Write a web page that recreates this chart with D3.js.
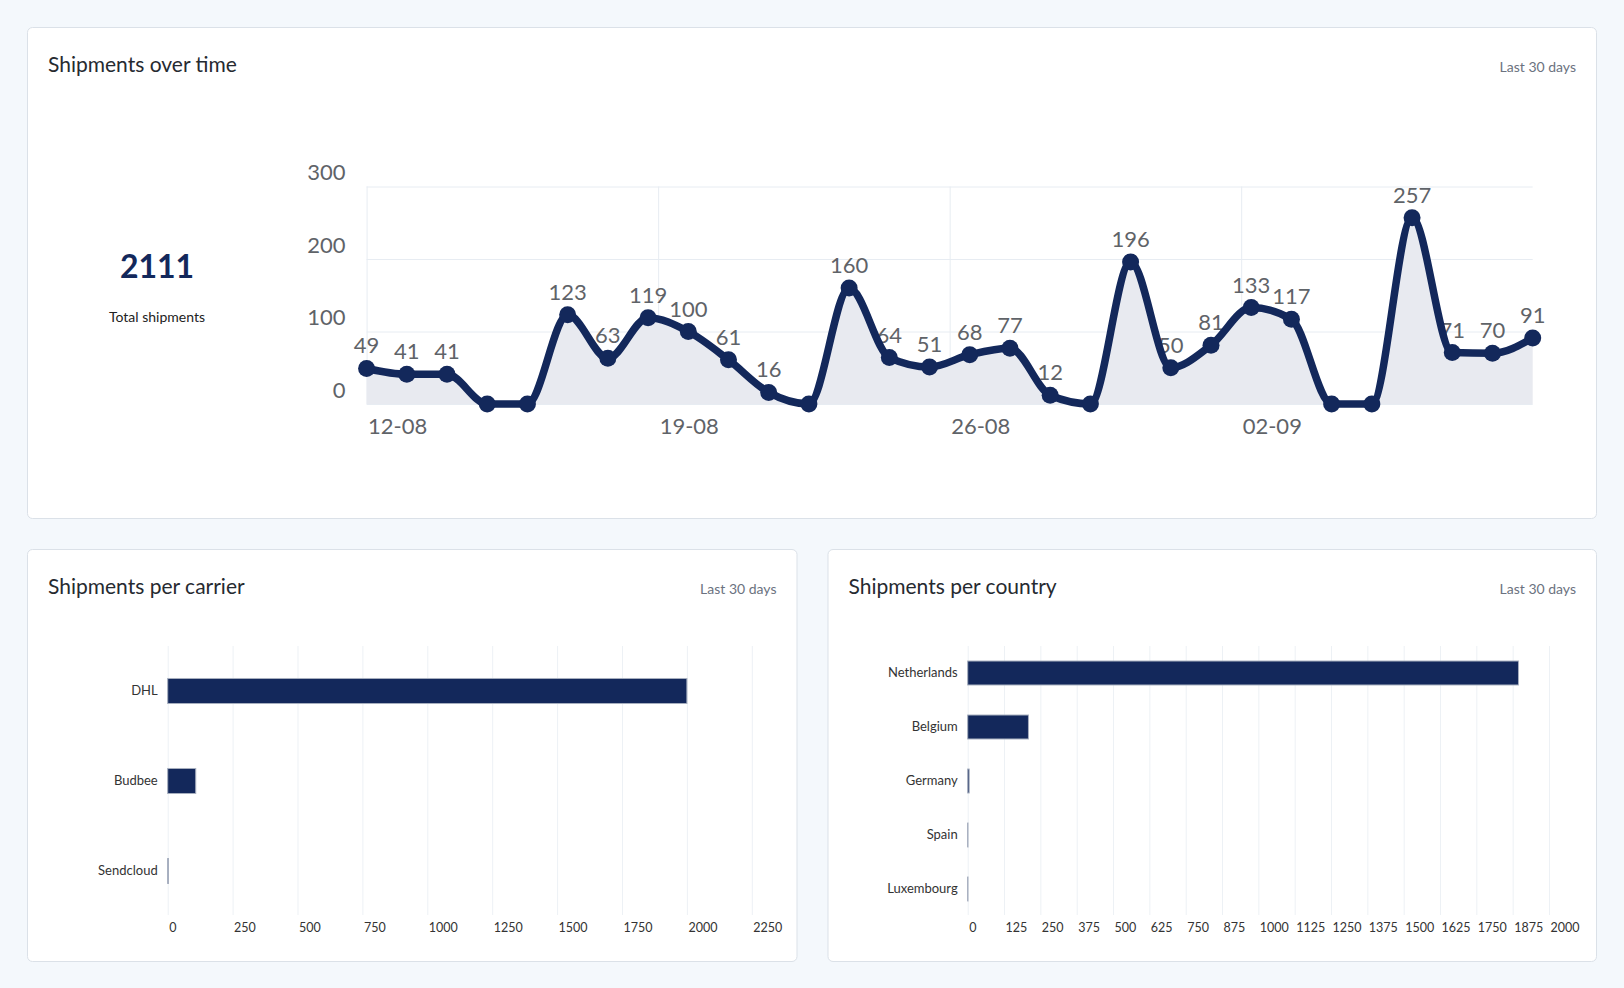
<!DOCTYPE html>
<html>
<head>
<meta charset="utf-8">
<script src="https://cdn.jsdelivr.net/npm/d3@7"></script>
<style>
  html, body { margin: 0; padding: 0; background: #f4f8fc; }
  svg { display: block; font-family: Lato, "Noto Sans", sans-serif; }
</style>
</head>
<body>
<svg id="chart" width="1624" height="988"></svg>
<script>
// shipments per day
const days = ["12-08","13-08","14-08","15-08","16-08","17-08","18-08","19-08","20-08","21-08",
              "22-08","23-08","24-08","25-08","26-08","27-08","28-08","29-08","30-08","31-08",
              "01-09","02-09","03-09","04-09","05-09","06-09","07-09","08-09","09-09","10-09"];
const shipments = [49, 41, 41, 0, 0, 123, 63, 119, 100, 61,
                   16, 0, 160, 64, 51, 68, 77, 12, 0, 196,
                   50, 81, 133, 117, 0, 0, 257, 71, 70, 91];
const yTicks = [0, 100, 200, 300];
const xTickLabels = ["12-08", "19-08", "26-08", "02-09"];

// carriers
const carriers = ["DHL", "Budbee", "Sendcloud"];
const carrierValues = [2000, 108, 3];
const carrierTicks = [0, 250, 500, 750, 1000, 1250, 1500, 1750, 2000, 2250];

// countries
const countries = ["Netherlands", "Belgium", "Germany", "Spain", "Luxembourg"];
const countryValues = [1895, 209, 5, 1, 1];
const countryTicks = [0, 125, 250, 375, 500, 625, 750, 875, 1000, 1125, 1250, 1375, 1500, 1625, 1750, 1875, 2000];

const navy = "#13285b";
const gridColor = "#e7ecf2";
const svg = d3.select("#chart");

function card(x, y, w, h, title) {
  const g = svg.append("g");
  g.append("rect").attr("x", x + 0.5).attr("y", y + 0.5).attr("width", w).attr("height", h)
    .attr("rx", 5).attr("fill", "#fff").attr("stroke", "#dbe1e8");
  g.append("text").attr("x", x + 21).attr("y", y + 45).attr("font-size", 21)
    .attr("fill", "#262a30").text(title);
  g.append("text").attr("x", x + w - 20).attr("y", y + 45).attr("font-size", 14)
    .attr("text-anchor", "end").attr("fill", "#6b7280").text("Last 30 days");
  return g;
}

// ---------- shipments over time ----------
card(27, 27, 1569, 491, "Shipments over time");

svg.append("text").attr("x", 157).attr("y", 278).attr("text-anchor", "middle")
  .attr("font-size", 32).attr("font-weight", 700).attr("fill", navy)
  .text(d3.sum(shipments));
svg.append("text").attr("x", 157).attr("y", 322).attr("text-anchor", "middle")
  .attr("font-size", 14).attr("fill", "#222").text("Total shipments");

const parseDay = d3.timeParse("%d-%m-%Y");
const dates = days.map(d => parseDay(d + "-2024"));
const series = dates.map((d, i) => ({date: d, value: shipments[i]}));

const x0 = 366.6, x1 = 1532.7;
const x = d3.scaleTime().domain(d3.extent(dates)).range([x0, x1]);
const y = d3.scaleLinear().domain([0, 300]).range([404, 186.5]);

// evenly spaced ticks across the domain (4 intervals)
const [t0, t1] = x.domain();
const xTickVals = xTickLabels.map((l, i) => new Date(+t0 + i * (t1 - t0) / 4));

const lc = svg.append("g");

// grid
lc.append("g").attr("transform", `translate(${x0},0)`)
  .call(d3.axisLeft(y).tickValues(yTicks).tickSize(-(x1 - x0)).tickFormat(""))
  .call(g => g.select(".domain").remove())
  .call(g => g.selectAll("line").attr("stroke", gridColor));
lc.append("g").attr("transform", `translate(0,${y(0)})`)
  .call(d3.axisBottom(x).tickValues(xTickVals).tickSize(-(y(0) - y(300))).tickFormat(""))
  .call(g => g.select(".domain").remove())
  .call(g => g.selectAll("line").attr("stroke", gridColor));

// axes labels
lc.append("g").attr("transform", `translate(${x0},0)`)
  .call(d3.axisLeft(y).tickValues(yTicks).tickSize(0).tickPadding(21))
  .call(g => g.select(".domain").remove())
  .call(g => g.selectAll("text").attr("dy", -7).attr("font-size", 22)
    .attr("font-family", "Lato").attr("fill", "#5f6368"));
lc.append("g").attr("transform", `translate(0,${y(0)})`)
  .call(d3.axisBottom(x).tickValues(xTickVals).tickSize(0).tickFormat((d, i) => xTickLabels[i]))
  .call(g => g.select(".domain").remove())
  .call(g => g.selectAll("text").attr("y", 30).attr("dy", 0).attr("x", 1)
    .attr("text-anchor", "start").attr("font-size", 22)
    .attr("font-family", "Lato").attr("fill", "#5f6368"));

// area
lc.append("path").datum(series)
  .attr("fill", "#e8eaf0")
  .attr("d", d3.area().curve(d3.curveMonotoneX)
    .x(d => x(d.date)).y0(y(0)).y1(d => y(d.value)));

// data labels (under the line)
lc.append("g").selectAll("text").data(series.filter(d => d.value > 0)).join("text")
  .attr("x", d => x(d.date)).attr("y", d => y(d.value) - 15)
  .attr("text-anchor", "middle").attr("font-size", 22).attr("fill", "#5f6368")
  .text(d => d.value);

// line
lc.append("path").datum(series)
  .attr("fill", "none").attr("stroke", navy).attr("stroke-width", 7.5)
  .attr("stroke-linejoin", "round")
  .attr("d", d3.line().curve(d3.curveMonotoneX).x(d => x(d.date)).y(d => y(d.value)));

// markers
lc.append("g").selectAll("circle").data(series).join("circle")
  .attr("cx", d => x(d.date)).attr("cy", d => y(d.value)).attr("r", 8.5).attr("fill", navy);

// ---------- horizontal bar charts ----------
function barChart(cats, vals, ticks, left, right, bandPad) {
  const g = svg.append("g");
  const xs = d3.scaleLinear().domain([0, d3.max(ticks)]).range([left, right]);
  const ys = d3.scaleBand().domain(cats).range([646, 916])
    .paddingInner(bandPad).paddingOuter(bandPad / 2);

  g.append("g").attr("transform", "translate(0,915)")
    .call(d3.axisBottom(xs).tickValues(ticks).tickSize(-269).tickFormat(""))
    .call(a => a.select(".domain").remove())
    .call(a => a.selectAll("line").attr("stroke", "#edf1f5"));

  g.append("g").attr("transform", "translate(0,915)")
    .call(d3.axisBottom(xs).tickValues(ticks).tickSize(0).tickFormat(d3.format("d")))
    .call(a => a.select(".domain").remove())
    .call(a => a.selectAll("text").attr("y", 17).attr("dy", 0).attr("x", 1)
      .attr("text-anchor", "start").attr("font-size", 12.5)
      .attr("font-family", "Lato").attr("fill", "#333"));

  g.append("g").attr("transform", `translate(${left},0)`)
    .call(d3.axisLeft(ys).tickSize(0).tickPadding(10))
    .call(a => a.select(".domain").remove())
    .call(a => a.selectAll("text").attr("font-size", 13)
      .attr("font-family", "Lato").attr("fill", "#333"));

  g.append("g").selectAll("rect").data(cats).join("rect")
    .attr("x", xs(0)).attr("y", d => ys(d))
    .attr("width", (d, i) => xs(vals[i]) - xs(0))
    .attr("height", ys.bandwidth())
    .attr("fill", navy).attr("stroke", "#a7afbf").attr("stroke-width", 1);
}

card(27, 549, 769.5, 412, "Shipments per carrier");
barChart(carriers, carrierValues, carrierTicks, 167.7, 751.8, 0.722);

card(827.5, 549, 768.5, 412, "Shipments per country");
barChart(countries, countryValues, countryTicks, 967.7, 1549, 0.556);
</script>
</body>
</html>
